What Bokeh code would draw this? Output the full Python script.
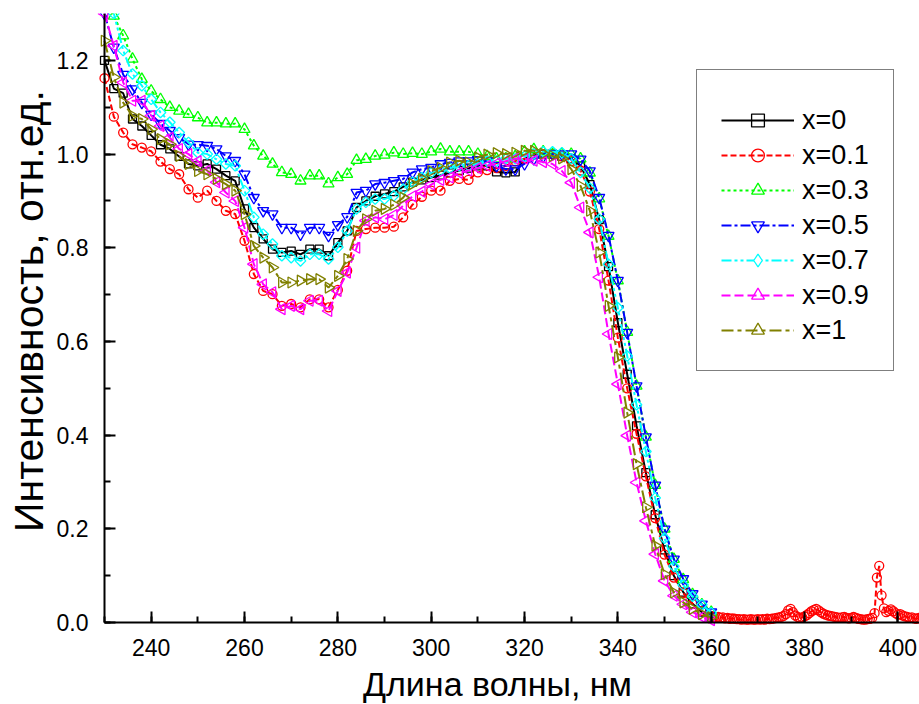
import numpy as np
from bokeh.plotting import figure
from bokeh.models import (Range1d, Legend, LegendItem, SingleIntervalTicker,
                          NumeralTickFormatter, Label)
from bokeh.embed import file_html
from bokeh.resources import INLINE

# ---------------- data ----------------
wavelength = list(range(230, 362, 2))

x_0 = [1.20, 1.14, 1.13, 1.075, 1.06, 1.04, 1.02, 1.011, 0.995, 0.979,
       0.975, 0.979, 0.968, 0.954, 0.943, 0.883, 0.843, 0.819, 0.797, 0.79,
       0.793, 0.786, 0.797, 0.797, 0.783, 0.811, 0.836, 0.886, 0.90, 0.91,
       0.915, 0.92, 0.93, 0.94, 0.945, 0.95, 0.955, 0.96, 0.965, 0.97,
       0.975, 0.975, 0.962, 0.96, 0.962, 0.99, 1.0, 1.0, 1.0, 0.995,
       0.99, 0.975, 0.935, 0.86, 0.76, 0.64, 0.53, 0.42, 0.32, 0.23,
       0.155, 0.10, 0.065, 0.04, 0.022, 0.01]

x_01 = [1.162, 1.08, 1.046, 1.021, 1.014, 1.006, 0.984, 0.968, 0.957, 0.925,
        0.907, 0.922, 0.90, 0.879, 0.872, 0.815, 0.744, 0.708, 0.701, 0.676,
        0.68, 0.673, 0.69, 0.69, 0.673, 0.71, 0.751, 0.836, 0.84, 0.843,
        0.843, 0.845, 0.865, 0.892, 0.909, 0.922, 0.922, 0.943, 0.947, 0.945,
        0.961, 0.966, 0.97, 0.975, 0.985, 0.99, 1.0, 1.0, 1.0, 0.995,
        0.985, 0.965, 0.92, 0.84, 0.73, 0.608, 0.50, 0.403, 0.312, 0.223,
        0.145, 0.096, 0.063, 0.04, 0.025, 0.014]

x_03 = [1.34, 1.295, 1.253, 1.203, 1.16, 1.135, 1.117, 1.10, 1.092, 1.085,
        1.078, 1.067, 1.067, 1.065, 1.065, 1.053, 1.018, 0.996, 0.979, 0.961,
        0.957, 0.943, 0.954, 0.954, 0.937, 0.95, 0.957, 0.987, 0.989, 0.996,
        0.998, 1.003, 1.0, 1.002, 1.0, 1.005, 1.011, 1.005, 1.005, 1.005,
        1.0, 0.995, 0.99, 0.99, 0.995, 1.005, 1.01, 1.005, 1.0, 1.0,
        1.0, 0.99, 0.96, 0.905, 0.825, 0.73, 0.62, 0.505, 0.396, 0.293,
        0.20, 0.135, 0.092, 0.06, 0.038, 0.022]

x_05 = [1.30, 1.228, 1.17, 1.139, 1.11, 1.085, 1.065, 1.05, 1.035, 1.021,
        1.02, 1.018, 1.011, 0.996, 0.986, 0.957, 0.907, 0.879, 0.872, 0.843,
        0.843, 0.829, 0.843, 0.843, 0.826, 0.849, 0.866, 0.918, 0.922, 0.936,
        0.939, 0.943, 0.947, 0.961, 0.968, 0.971, 0.979, 0.982, 0.985, 0.985,
        0.988, 0.985, 0.975, 0.968, 0.968, 0.979, 0.99, 0.995, 1.0, 1.0,
        1.0, 0.989, 0.964, 0.907, 0.826, 0.73, 0.619, 0.505, 0.396, 0.293,
        0.199, 0.135, 0.093, 0.061, 0.039, 0.022]

x_07 = [1.36, 1.30, 1.221, 1.171, 1.146, 1.117, 1.089, 1.068, 1.046, 1.025,
        1.003, 1.0, 0.989, 0.979, 0.975, 0.922, 0.865, 0.829, 0.808, 0.783,
        0.779, 0.772, 0.786, 0.786, 0.776, 0.801, 0.836, 0.883, 0.897, 0.904,
        0.904, 0.911, 0.925, 0.94, 0.95, 0.96, 0.965, 0.97, 0.975, 0.975,
        0.98, 0.985, 0.985, 0.99, 0.99, 0.995, 1.0, 1.005, 1.005, 1.003,
        0.99, 0.961, 0.927, 0.861, 0.765, 0.672, 0.569, 0.465, 0.365, 0.266,
        0.18, 0.12, 0.08, 0.056, 0.038, 0.021]

x_09 = [1.30, 1.231, 1.153, 1.114, 1.114, 1.082, 1.06, 1.035, 1.011, 1.0,
        0.985, 0.965, 0.94, 0.918, 0.90, 0.843, 0.765, 0.722, 0.705, 0.669,
        0.676, 0.669, 0.687, 0.687, 0.665, 0.708, 0.747, 0.80, 0.858, 0.865,
        0.861, 0.87, 0.89, 0.91, 0.92, 0.935, 0.945, 0.95, 0.96, 0.965,
        0.97, 0.975, 0.98, 0.985, 0.99, 0.99, 0.986, 0.983, 0.979, 0.964,
        0.939, 0.886, 0.833, 0.737, 0.616, 0.509, 0.399, 0.299, 0.217, 0.146,
        0.089, 0.057, 0.039, 0.022, 0.012, 0.005]

x_1 = [1.242, 1.164, 1.11, 1.082, 1.075, 1.053, 1.032, 1.021, 0.996, 0.979,
       0.964, 0.957, 0.947, 0.936, 0.922, 0.872, 0.804, 0.779, 0.758, 0.726,
       0.726, 0.73, 0.733, 0.733, 0.715, 0.74, 0.776, 0.836, 0.861, 0.879,
       0.883, 0.892, 0.907, 0.936, 0.947, 0.964, 0.971, 0.982, 0.986, 0.982,
       0.993, 0.999, 1.002, 1.0, 1.003, 1.007, 1.007, 1.001, 0.996, 0.991,
       0.968, 0.932, 0.879, 0.79, 0.676, 0.566, 0.448, 0.338, 0.246, 0.164,
       0.103, 0.064, 0.043, 0.029, 0.018, 0.011]

# x=0.1 was recorded further, with a finer step, up to 405 nm
red_tail_wavelength = [360.5 + 0.5 * i for i in range(90)]
red_tail = [0.012, 0.011, 0.012, 0.010, 0.011, 0.009, 0.010, 0.008, 0.009, 0.008,
            0.007, 0.007, 0.006, 0.007, 0.006, 0.006, 0.007, 0.006, 0.006, 0.007,
            0.006, 0.007, 0.006, 0.008, 0.007, 0.008, 0.009, 0.010, 0.011, 0.012,
            0.014, 0.018, 0.026, 0.029, 0.022, 0.015, 0.012, 0.010, 0.011, 0.013,
            0.016, 0.020, 0.024, 0.027, 0.029, 0.026, 0.022, 0.019, 0.017, 0.015,
            0.014, 0.013, 0.012, 0.011, 0.010, 0.011, 0.012, 0.010, 0.009, 0.010,
            0.012, 0.010, 0.008, 0.007, 0.006, 0.006, 0.007, 0.008, 0.010, 0.020,
            0.096, 0.121, 0.058, 0.030, 0.022, 0.025, 0.028, 0.024, 0.020, 0.017,
            0.018, 0.015, 0.013, 0.012, 0.010, 0.011, 0.009, 0.008, 0.010, 0.008]

labels = ["x=0", "x=0.1", "x=0.3", "x=0.5", "x=0.7", "x=0.9", "x=1"]
x_title = "Длина волны, нм"
y_title = "Интенсивность, отн.ед."
x_tick_step = 20
y_tick_step = 0.2
x_start, x_end = 230, 404.63
y_start, y_end = 0.0, 1.3

# ---------------- figure ----------------
# the frame covers the whole canvas; the axes sit at x=230 and y=0
p = figure(width=919, height=704, output_backend="svg", toolbar_location=None,
           x_range=Range1d(207.715, x_end), y_range=Range1d(-0.17506, 1.3002),
           min_border_left=0, min_border_right=0, min_border_top=13,
           min_border_bottom=0)
p.xgrid.visible = False
p.ygrid.visible = False
p.outline_line_color = None
p.background_fill_color = "white"
p.border_fill_color = "white"

FONT = "'Liberation Sans', Arial, sans-serif"

p.xaxis.fixed_location = 0
p.yaxis.fixed_location = x_start
p.xaxis.bounds = (x_start, x_end)
p.yaxis.bounds = (y_start, y_end)
p.xaxis.ticker = SingleIntervalTicker(interval=x_tick_step, num_minor_ticks=2)
p.yaxis.ticker = SingleIntervalTicker(interval=y_tick_step, num_minor_ticks=2)
p.yaxis.formatter = NumeralTickFormatter(format="0.0")
for ax in (p.xaxis[0], p.yaxis[0]):
    ax.axis_line_width = 2
    ax.axis_line_color = "black"
    ax.major_tick_line_width = 2
    ax.minor_tick_line_width = 2
    ax.major_tick_in = 11
    ax.major_tick_out = 0
    ax.minor_tick_in = 6
    ax.minor_tick_out = 0
    ax.major_label_text_font = FONT
    ax.major_label_text_font_size = "23px"
    ax.major_label_text_color = "black"
    ax.major_label_standoff = 16

styles = [
    ("black", "square", 0, "solid", 8),
    ("red", "circle", 0, "6 3", 9),
    ("#00ff00", "triangle", 0, "3 3", 11),
    ("blue", "inverted_triangle", 0, "10 3 3 3", 11),
    ("cyan", "square", np.pi / 4, "10 3 3 3 3 3", 7.5),
    ("magenta", "triangle", np.pi / 2, "9 4", 11),
    ("#808000", "triangle", -np.pi / 2, "12 4 4 4", 11),
]
series = [
    (wavelength, x_0),
    (wavelength + red_tail_wavelength, x_01 + red_tail),
    (wavelength, x_03),
    (wavelength, x_05),
    (wavelength, x_07),
    (wavelength, x_09),
    (wavelength, x_1),
]

items = []
for (xs, ys), (col, mk, ang, dash, sz), lab in zip(series, styles, labels):
    lr = p.line(xs, ys, line_color=col, line_width=2, line_dash=dash)
    sr = p.scatter(xs, ys, marker=mk, angle=ang, size=sz, line_color=col,
                   line_width=1.3, fill_color=None)
    if ang != 0 and mk == "square":
        # legend-only sample for the diamond marker (no visible point)
        sr_leg = p.scatter([np.nan], [np.nan], marker="diamond", size=14,
                           line_color=col, line_width=1.3, fill_color="white")
        items.append(LegendItem(label=lab, renderers=[lr, sr_leg]))
    else:
        items.append(LegendItem(label=lab, renderers=[lr, sr]))

legend = Legend(items=items, location=(696, 333))
legend.padding = 24
legend.glyph_width = 73
legend.glyph_height = 32
legend.label_height = 32
legend.label_standoff = 8
legend.spacing = 3
legend.title = " "
legend.title_text_font_size = "9px"
legend.title_standoff = 0
legend.label_text_font = FONT
legend.label_text_font_size = "27px"
legend.label_text_color = "black"
legend.border_line_color = "black"
legend.border_line_width = 1.6
legend.background_fill_color = "white"
legend.background_fill_alpha = 1.0
legend.margin = 0
p.add_layout(legend, "center")

# axis titles
xt = Label(x=314.2, y=-0.1305, text=x_title, text_align="center",
           text_baseline="middle", text_font=FONT, text_font_size="34px",
           text_color="black")
yt = Label(x=213.72, y=0.665, text=y_title, text_align="center",
           text_baseline="middle", angle=np.pi / 2, text_font=FONT,
           text_font_size="41px", text_color="black")
p.add_layout(xt)
p.add_layout(yt)

open("out.html", "w").write(file_html(p, INLINE))
